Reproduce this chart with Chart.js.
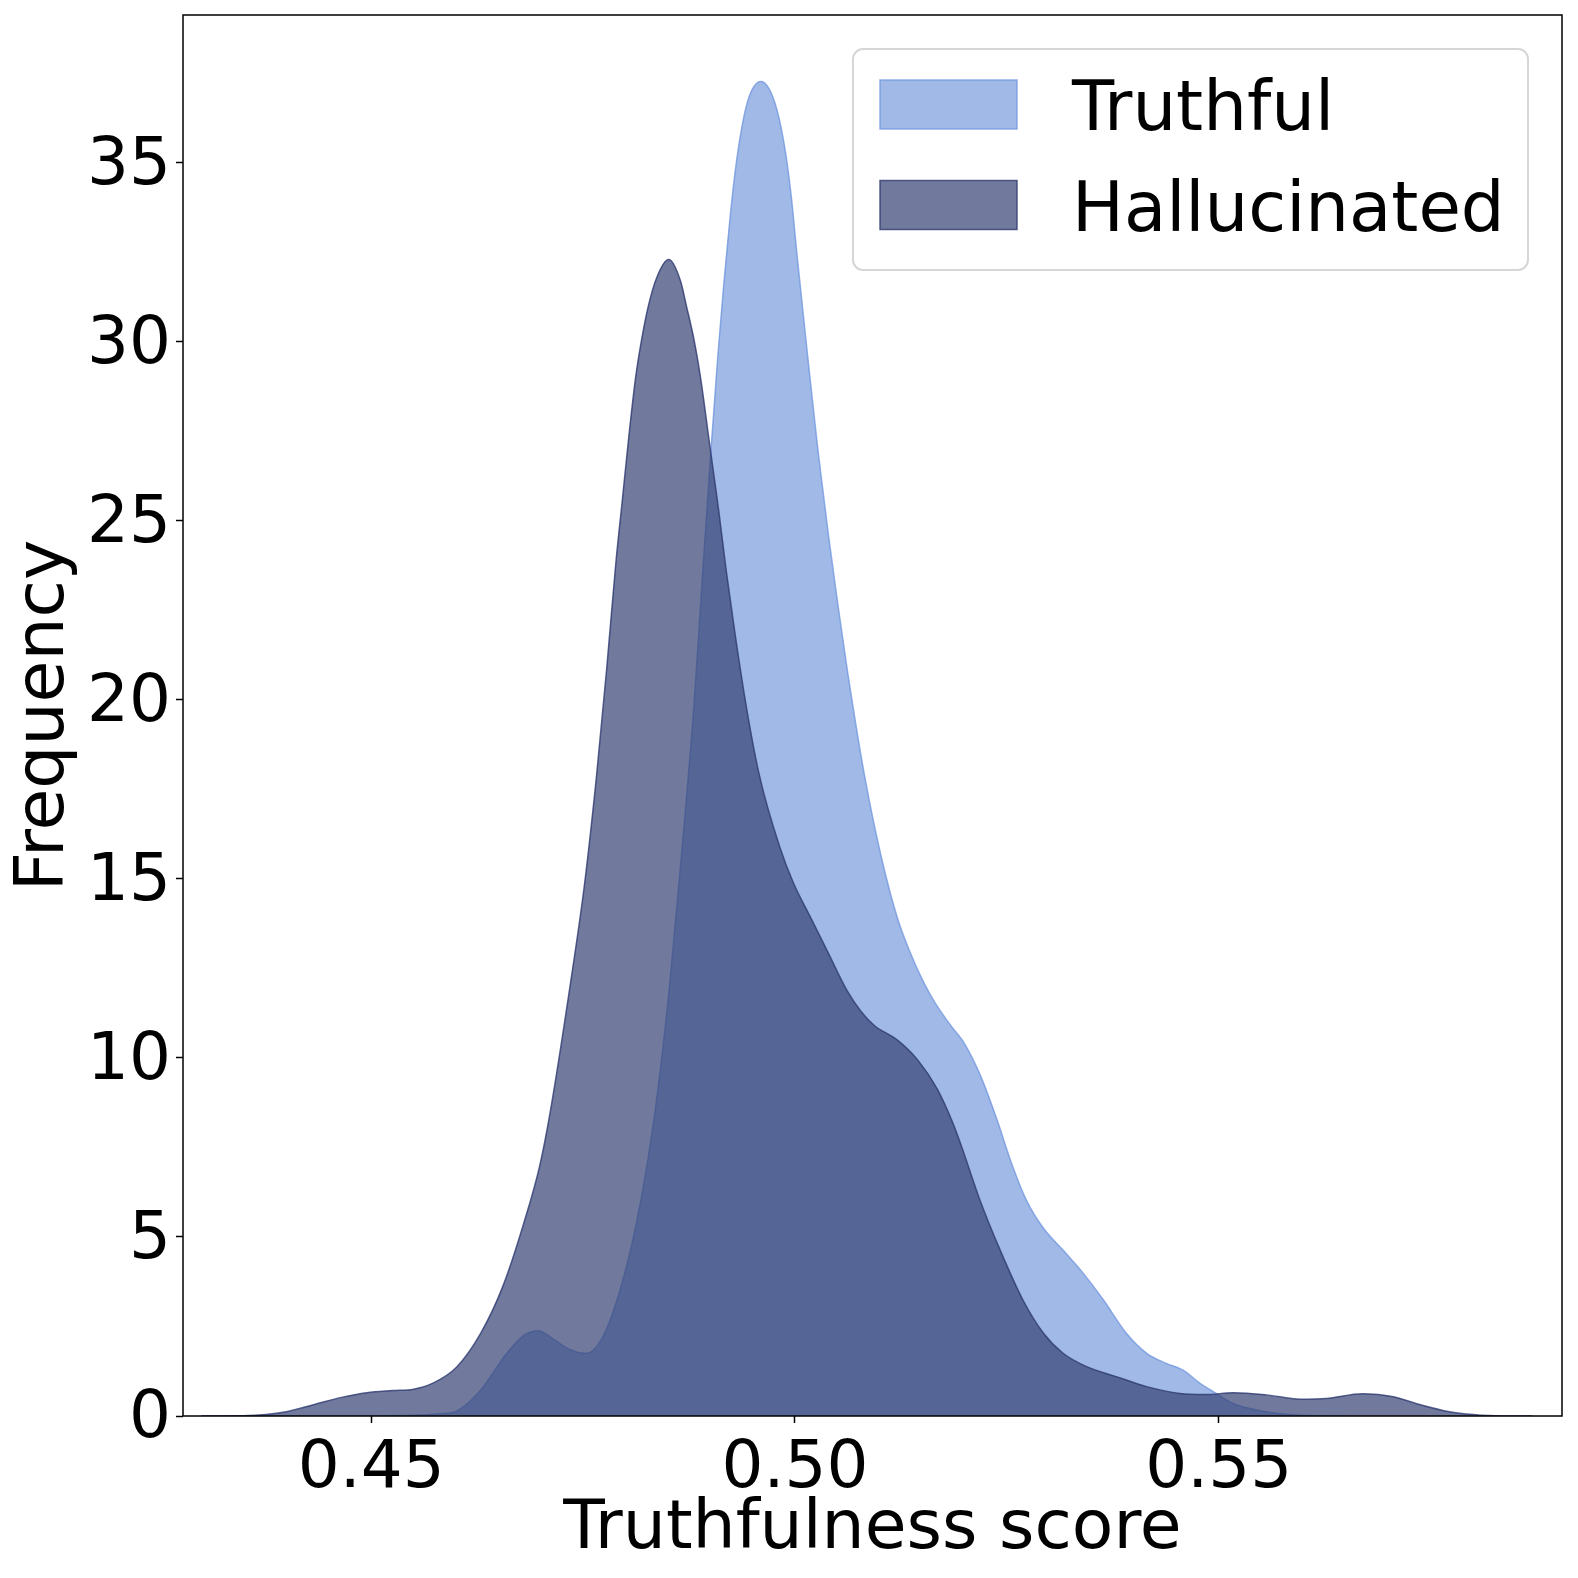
<!DOCTYPE html>
<html>
<head>
<meta charset="utf-8">
<script src="https://cdn.jsdelivr.net/npm/chart.js@4.4.1/dist/chart.umd.min.js"></script>
<style>
  html, body { margin: 0; padding: 0; background: #fff; }
  #wrap { width: 1578px; height: 1578px; }
</style>
</head>
<body>
<div id="wrap"><canvas id="kdeChart" width="1578" height="1578"></canvas></div>
<script>
// density curves (score, frequency)
const truthfulX = [0.4300, 0.4450, 0.4550, 0.4580, 0.4601, 0.4629, 0.4660, 0.4680, 0.4697, 0.4715,
    0.4735, 0.4753, 0.4773, 0.4797, 0.4818, 0.4836, 0.4852, 0.4867, 0.4881, 0.4891,
    0.4901, 0.4909, 0.4916, 0.4924, 0.4932, 0.4944, 0.4960, 0.4976, 0.4987, 0.4995,
    0.5003, 0.5015, 0.5027, 0.5039, 0.5051, 0.5062, 0.5082, 0.5102, 0.5121, 0.5135,
    0.5150, 0.5165, 0.5184, 0.5200, 0.5219, 0.5238, 0.5257, 0.5273, 0.5293, 0.5316,
    0.5340, 0.5364, 0.5391, 0.5415, 0.5438, 0.5458, 0.5478, 0.5497, 0.5517, 0.5556,
    0.5596, 0.5650];
const truthfulY = [0, 0, 0.02, 0.06, 0.14, 0.72, 1.75, 2.25, 2.38, 2.15,
    1.85, 1.75, 2.2, 3.8, 6.0, 8.7, 12.0, 15.9, 19.9, 23.5,
    27.0, 29.6, 31.6, 33.6, 35.2, 36.7, 37.27, 36.7, 35.56, 34.2,
    32.3, 29.6, 27.0, 24.7, 22.6, 20.8, 17.9, 15.6, 13.9, 13.0,
    12.2, 11.55, 10.9, 10.4, 9.5, 8.3, 6.96, 6.03, 5.25, 4.64,
    3.99, 3.24, 2.31, 1.75, 1.47, 1.28, 0.91, 0.63, 0.35, 0.12,
    0.02, 0];

const hallucinatedX = [0.4300, 0.4349, 0.4400, 0.4431, 0.4465, 0.4495, 0.4525, 0.4550, 0.4573, 0.4601,
    0.4629, 0.4655, 0.4679, 0.4699, 0.4711, 0.4734, 0.4752, 0.4766, 0.4778, 0.4789,
    0.4796, 0.4804, 0.4812, 0.4819, 0.4827, 0.4837, 0.4851, 0.4865, 0.4872, 0.4881,
    0.4889, 0.4899, 0.4910, 0.4919, 0.4929, 0.4942, 0.4958, 0.4982, 0.4998, 0.5019,
    0.5040, 0.5061, 0.5078, 0.5094, 0.5121, 0.5145, 0.5168, 0.5186, 0.5197, 0.5218,
    0.5242, 0.5269, 0.5293, 0.5316, 0.5344, 0.5379, 0.5415, 0.5454, 0.5485, 0.5517,
    0.5556, 0.5596, 0.5627, 0.5670, 0.5706, 0.5737, 0.5772, 0.5800, 0.5833, 0.5870];
const hallucinatedY = [0, 0.01, 0.12, 0.31, 0.52, 0.65, 0.71, 0.75, 0.92, 1.37,
    2.3, 3.6, 5.3, 7.0, 8.45, 11.9, 14.9, 17.9, 20.9, 23.9,
    25.5, 27.35, 29.0, 30.05, 31.0, 31.8, 32.3, 31.7, 31.0, 30.05,
    28.94, 27.2, 25.3, 23.6, 21.9, 19.9, 17.9, 15.9, 14.9, 13.9,
    12.9, 11.9, 11.3, 10.9, 10.5, 9.94, 9.13, 8.2, 7.5, 6.05,
    4.64, 3.24, 2.32, 1.76, 1.38, 1.1, 0.82, 0.63, 0.6, 0.65,
    0.59, 0.47, 0.49, 0.62, 0.54, 0.32, 0.12, 0.04, 0, 0];

const seriesLabels = ['Truthful', 'Hallucinated'];
const xTicks = [0.45, 0.50, 0.55];
const yTicks = [0, 5, 10, 15, 20, 25, 30, 35];

const FONT = "'DejaVu Sans', sans-serif";

function toPoints(xs, ys) {
    return xs.map((x, i) => ({ x: x, y: ys[i] }));
}

// black box round the plot area
const frameBox = {
    id: 'frameBox',
    afterDraw(chart) {
        const { ctx, chartArea: a } = chart;
        ctx.save();
        ctx.strokeStyle = '#000';
        ctx.lineWidth = 1.5;
        ctx.strokeRect(a.left, a.top, a.right - a.left, a.bottom - a.top);
        ctx.restore();
    }
};

// matplotlib style legend in the upper right
const legendBox = {
    id: 'legendBox',
    afterDraw(chart) {
        const ctx = chart.ctx;
        ctx.save();
        const bx = 853, by = 49, bw = 675, bh = 221, r = 10;
        ctx.beginPath();
        ctx.roundRect(bx, by, bw, bh, r);
        ctx.fillStyle = 'rgba(255,255,255,0.8)';
        ctx.fill();
        ctx.strokeStyle = '#d6d6d6';
        ctx.lineWidth = 2;
        ctx.stroke();

        chart.data.datasets.forEach((ds, i) => {
            const y = 80 + i * 100.5;
            ctx.fillStyle = ds.backgroundColor;
            ctx.fillRect(880, y, 137, 49);
            ctx.strokeStyle = ds.borderColor;
            ctx.lineWidth = 1.5;
            ctx.strokeRect(880, y, 137, 49);
            ctx.fillStyle = '#000';
            ctx.font = '69px ' + FONT;
            ctx.textBaseline = 'alphabetic';
            ctx.textAlign = 'left';
            ctx.fillText(ds.label, 1072, y + 50);
        });
        ctx.restore();
    }
};

const ctx = document.getElementById('kdeChart');

new Chart(ctx, {
    type: 'line',
    data: {
        datasets: [
            {
                label: seriesLabels[0],
                data: toPoints(truthfulX, truthfulY),
                backgroundColor: 'rgba(121, 155, 219, 0.7)',
                borderColor: 'rgba(110, 148, 222, 0.75)',
                borderWidth: 1.5,
                fill: 'origin',
                pointRadius: 0,
                cubicInterpolationMode: 'monotone',
                order: 2
            },
            {
                label: seriesLabels[1],
                data: toPoints(hallucinatedX, hallucinatedY),
                backgroundColor: 'rgba(52, 65, 116, 0.7)',
                borderColor: 'rgba(45, 58, 112, 0.8)',
                borderWidth: 1.5,
                fill: 'origin',
                pointRadius: 0,
                cubicInterpolationMode: 'monotone',
                order: 1
            }
        ]
    },
    options: {
        responsive: false,
        animation: false,
        events: [],
        layout: { padding: { top: 15, right: 16, left: 0, bottom: 0 } },
        plugins: {
            legend: { display: false },
            tooltip: { enabled: false }
        },
        scales: {
            x: {
                type: 'linear',
                min: 0.4278,
                max: 0.5905,
                afterFit: (scale) => {
                    scale.height = 162;
                    scale.paddingLeft = 0;
                    scale.paddingRight = 0;
                },
                afterBuildTicks: (scale) => { scale.ticks = xTicks.map(v => ({ value: v })); },
                border: { display: false },
                grid: {
                    drawOnChartArea: false,
                    drawTicks: true,
                    tickLength: 7,
                    tickWidth: 1.5,
                    tickColor: '#000'
                },
                ticks: {
                    color: '#000',
                    padding: 7,
                    maxRotation: 0,
                    font: { family: FONT, size: 66 },
                    callback: (v) => Number(v).toFixed(2)
                },
                title: {
                    display: true,
                    text: 'Truthfulness score',
                    color: '#000',
                    font: { family: FONT, size: 68 },
                    padding: { top: 0, bottom: 7 }
                }
            },
            y: {
                type: 'linear',
                min: 0,
                max: 39.13,
                afterFit: (scale) => {
                    scale.width = 183;
                    scale.paddingTop = 0;
                    scale.paddingBottom = 0;
                },
                afterBuildTicks: (scale) => { scale.ticks = yTicks.map(v => ({ value: v })); },
                border: { display: false },
                grid: {
                    drawOnChartArea: false,
                    drawTicks: true,
                    tickLength: 7,
                    tickWidth: 1.5,
                    tickColor: '#000'
                },
                ticks: {
                    color: '#000',
                    padding: 5,
                    labelOffset: 4,
                    font: { family: FONT, size: 66 },
                    callback: (v) => String(v)
                },
                title: {
                    display: true,
                    text: 'Frequency',
                    color: '#000',
                    font: { family: FONT, size: 68 },
                    padding: { top: 5, bottom: 0 }
                }
            }
        }
    },
    plugins: [frameBox, legendBox]
});
</script>
</body>
</html>
